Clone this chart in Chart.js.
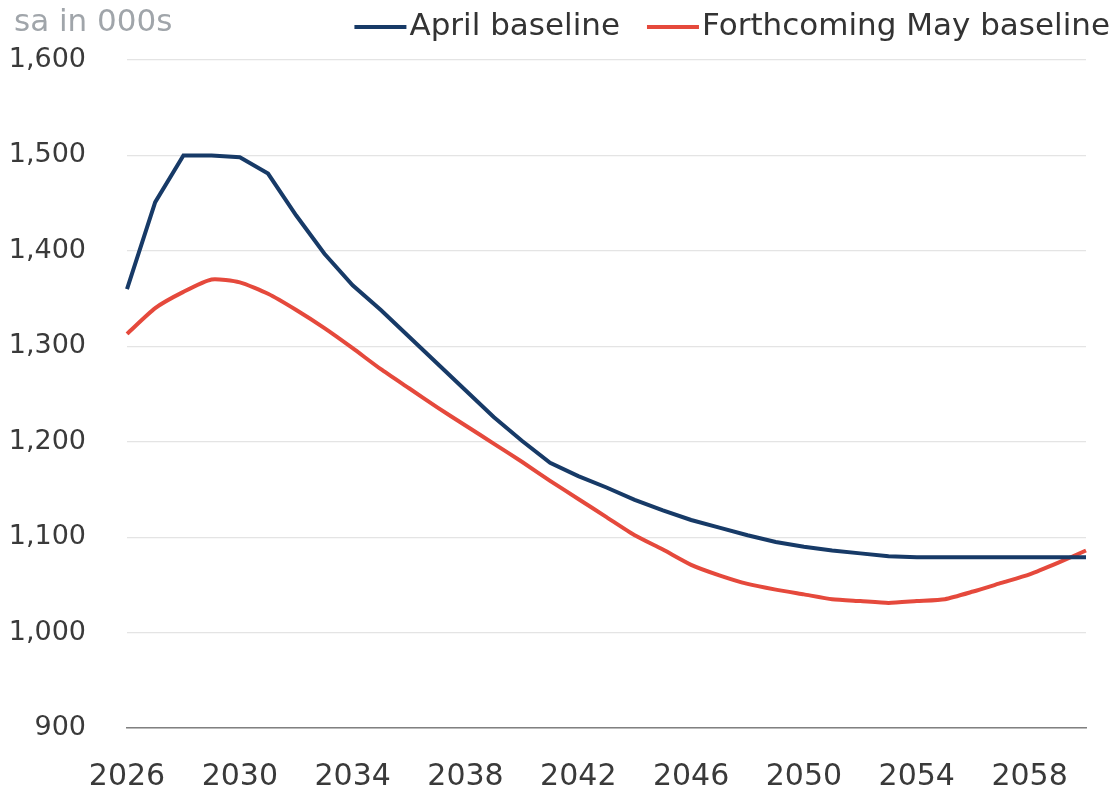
<!DOCTYPE html>
<html>
<head>
<meta charset="utf-8">
<script src="https://cdn.jsdelivr.net/npm/chart.js@4.4.1/dist/chart.umd.min.js"></script>
<style>
  html, body { margin: 0; padding: 0; background: #fff; }
  #wrap { width: 1119px; height: 793px; }
</style>
</head>
<body>
<div id="wrap"><canvas id="chart"></canvas></div>
<script>
// Years on the x axis
const years = [];
for (let y = 2026; y <= 2060; y++) years.push(String(y));

// sa in 000s
const aprilBaseline = [
    1360, 1451, 1500, 1500, 1498, 1481, 1437, 1397, 1364, 1338,
    1310, 1282, 1254, 1226, 1201, 1178, 1164, 1152, 1139, 1128,
    1118, 1110, 1102, 1095, 1090, 1086, 1083, 1080, 1079, 1079,
    1079, 1079, 1079, 1079, 1079
];
const mayBaseline = [
    1313, 1340, 1357, 1370, 1367, 1355, 1338, 1319, 1298, 1276,
    1256, 1236, 1217, 1198, 1179, 1159, 1140, 1121, 1102, 1087,
    1071, 1060, 1051, 1045, 1040, 1035, 1033, 1031, 1033, 1035,
    1043, 1052, 1061, 1073, 1086
];
const yTicks = [900, 1000, 1100, 1200, 1300, 1400, 1500, 1600];

const FONT = '"DejaVu Sans", sans-serif';

// unit label top-left + legend top-right (line swatch hugging the text)
const header = {
    id: 'header',
    afterDraw(chart) {
        const ctx = chart.ctx;
        ctx.save();
        ctx.font = '31px ' + FONT;
        ctx.fillStyle = '#a0a5aa';
        ctx.textBaseline = 'middle';
        ctx.textAlign = 'left';
        ctx.fillText('sa in 000s', 14, 23);

        ctx.fillStyle = '#333';
        let right = 1110;
        const sets = chart.data.datasets.slice().reverse();
        sets.forEach(ds => {
            const w = ctx.measureText(ds.label).width;
            const tx = right - w;
            ctx.fillText(ds.label, tx, 27);
            ctx.strokeStyle = ds.borderColor;
            ctx.lineWidth = 4;
            ctx.beginPath();
            ctx.moveTo(tx - 55, 27);
            ctx.lineTo(tx - 3, 27);
            ctx.stroke();
            right = tx - 55 - 27;
        });
        ctx.restore();
    }
};

new Chart(document.getElementById('chart'), {
    type: 'line',
    data: {
        labels: years,
        datasets: [{
            label: 'April baseline',
            data: aprilBaseline,
            borderColor: '#173a67',
            backgroundColor: '#173a67',
            borderWidth: 4,
            pointRadius: 0,
            tension: 0
        }, {
            label: 'Forthcoming May baseline',
            data: mayBaseline,
            borderColor: '#e5493c',
            backgroundColor: '#e5493c',
            borderWidth: 4,
            pointRadius: 0,
            tension: 0.2
        }]
    },
    options: {
        responsive: true,
        maintainAspectRatio: false,
        animation: false,
        layout: { padding: { left: 0, right: 33, top: 60, bottom: 0 } },
        plugins: {
            legend: { display: false },
            tooltip: { enabled: false }
        },
        scales: {
            x: {
                offset: false,
                grid: { display: false, drawTicks: false },
                border: { display: true, color: '#808080', width: 1.5 },
                ticks: {
                    autoSkip: false,
                    maxRotation: 0,
                    padding: 31,
                    color: '#3a3a3a',
                    font: { family: FONT, size: 30 },
                    callback: function (value, index) {
                        return index % 4 === 0 ? years[index] : '';
                    }
                },
                afterFit(scale) { scale.height = 65; }
            },
            y: {
                min: 900,
                max: 1600,
                afterBuildTicks(scale) {
                    scale.ticks = yTicks.map(v => ({ value: v }));
                },
                grid: { color: '#e4e4e4', lineWidth: 1.2, drawTicks: false },
                border: { display: false },
                ticks: {
                    padding: 41,
                    color: '#3a3a3a',
                    font: { family: FONT, size: 27 },
                    callback: v => v.toLocaleString('en-US')
                },
                afterFit(scale) { scale.width = 127; }
            }
        }
    },
    plugins: [header]
});
</script>
</body>
</html>
